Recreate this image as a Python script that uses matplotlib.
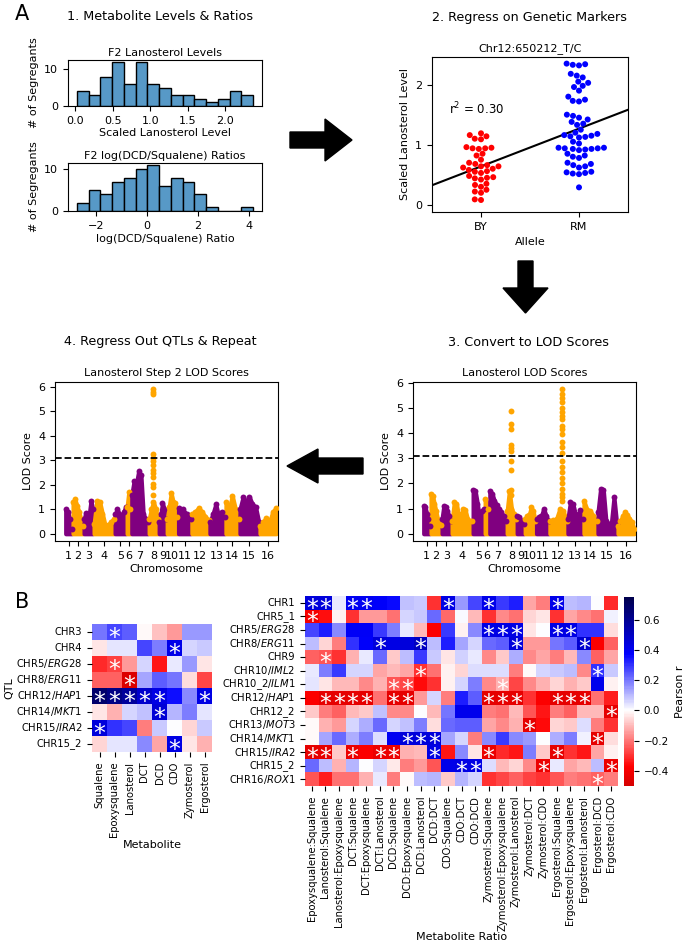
import numpy as np
import matplotlib
matplotlib.use('Agg')
import matplotlib.pyplot as plt
from matplotlib.patches import Polygon
import seaborn as sns

plt.rcParams['font.size'] = 8
W, H = 685, 949

# ---- step 1: histograms
lano_range = (0.02, 2.37)
lano_counts = [4, 3, 8, 12, 6, 12, 6, 5, 3, 3, 2, 1, 2, 4, 3]
ratio_range = (-2.75, 4.17)
ratio_counts = [2, 5, 4, 7, 8, 10, 11, 6, 8, 7, 4, 1, 0, 0, 1]

# ---- step 2: lanosterol by allele at Chr12:650212
by_levels = [1.19, 1.16, 1.14, 1.10, 1.09, 0.96, 0.95, 0.94, 0.94, 0.93, 0.85, 0.82,
             0.75, 0.70, 0.68, 0.66, 0.64, 0.64, 0.62, 0.60, 0.58, 0.56, 0.55, 0.53,
             0.48, 0.46, 0.45, 0.44, 0.42, 0.35, 0.33, 0.30, 0.25, 0.22, 0.20, 0.09, 0.08]
rm_levels = [2.35, 2.34, 2.33, 2.32, 2.18, 2.15, 2.12, 2.05, 2.03, 1.98, 1.96, 1.90,
             1.80, 1.75, 1.73, 1.72, 1.50, 1.48, 1.45, 1.42, 1.38, 1.35, 1.33,
             1.25, 1.20, 1.18, 1.16, 1.15, 1.14, 1.13, 1.12, 1.05, 1.02,
             0.95, 0.94, 0.93, 0.93, 0.92, 0.94, 0.95, 0.91, 0.85, 0.82, 0.80, 0.78,
             0.70, 0.68, 0.66, 0.64, 0.62, 0.55, 0.54, 0.53, 0.52, 0.51, 0.29]

# ---- steps 3/4: LOD profiles (genome position in marker units)
chrom_edges = [30, 52, 85, 115, 178, 214, 228, 280, 310, 334, 368, 408, 462, 510, 552, 612, 664]
lod_step1 = [
    [1.1, 1.05, 0.8, 0.6, 0.3],
    [1.6, 1.5, 1.2, 0.9, 0.6, 0.5, 0.35],
    [0.6, 1.1, 1.05, 0.9, 0.7, 0.5],
    [0.5, 1.25, 1.2, 0.7, 0.65, 1.0, 0.95, 0.6, 0.5, 0.5],
    [1.75, 1.7, 1.2, 0.6, 0.9, 1.0],
    [1.4, 1.0],
    [1.7, 1.6, 1.3, 1.15, 1.0, 0.85, 0.7, 0.5],
    [0.9, 1.7, 1.0, 0.8, 0.6],
    [0.7, 0.65, 0.5, 0.4],
    [0.6, 0.7, 0.75, 1.05, 0.9, 0.5],
    [0.6, 0.65, 0.7, 1.0, 0.7, 0.5],
    [0.5, 0.55, 0.6, 1.0, 0.9, 0.5],
    [0.6, 1.25, 1.2, 0.8, 0.7, 0.95, 0.6],
    [1.3, 0.95, 0.9, 0.7, 0.5],
    [0.85, 1.8, 1.75, 0.5, 0.4, 0.4, 1.45, 0.4],
    [0.3, 0.5, 0.7, 0.85, 0.75, 0.6, 0.45, 0.2],
]
step1_peak_chr8 = (293, [4.87, 4.35, 4.15, 3.55, 3.42, 3.3, 2.9, 2.55, 1.75, 1.55])
step1_peak_chr12 = (445, [5.75, 5.55, 5.4, 5.25, 5.0, 4.85, 4.7, 4.55, 4.3, 4.15, 3.95, 3.65,
                          3.45, 3.2, 2.9, 2.65, 2.45, 2.2, 2.0, 1.8, 1.6, 1.45, 1.3])
lod_step2 = [
    [1.0, 0.9, 0.6, 0.2],
    [1.3, 1.4, 1.15, 0.9, 0.6, 0.3],
    [0.6, 0.85, 0.7, 0.8, 1.35, 1.0],
    [0.4, 1.35, 1.3, 0.8, 0.3, 0.35, 0.5, 0.6],
    [0.8, 1.0, 0.8, 0.6, 0.9, 1.1],
    [1.1, 1.7, 1.0],
    [1.6, 2.15, 2.05, 2.55, 2.4, 0.8, 0.6, 0.5],
    [0.6, 1.0, 1.3, 1.0, 0.6],
    [0.5, 0.8, 1.25, 1.0, 0.6],
    [0.6, 1.1, 1.65, 1.3, 1.25, 0.7],
    [1.05, 1.0, 0.8, 0.6],
    [0.8, 0.9, 1.05, 0.9, 0.7, 0.55],
    [0.5, 0.8, 1.2, 0.7, 0.9, 0.7],
    [1.3, 1.0, 1.55, 1.0, 0.6],
    [1.0, 1.5, 1.3, 1.5, 1.2, 1.1, 0.5],
    [0.3, 0.5, 0.65, 0.5, 0.9, 1.05],
]
step2_peak_chr8 = (293, [5.9, 5.8, 5.7, 3.25, 3.1, 2.95, 2.8, 2.6, 2.5, 2.3, 2.05, 1.9, 1.6])
lod_threshold = 3.1

# ---- B: correlation heatmaps
metabolites = ['Squalene', 'Epoxysqualene', 'Lanosterol', 'DCT', 'DCD', 'CDO', 'Zymosterol', 'Ergosterol']
left_qtls = ['CHR3', 'CHR4', r'CHR5/$\it{ERG}$28', r'CHR8/$\it{ERG}$11', r'CHR12/$\it{HAP}$1',
             r'CHR14/$\it{MKT}$1', r'CHR15/$\it{IRA}$2', 'CHR15_2']
left_r = [
    [0.20, 0.27, 0.24, -0.01, -0.09, -0.15, 0.15, 0.15],
    [-0.04, 0.04, 0.04, 0.27, 0.19, 0.42, 0.06, 0.08],
    [-0.31, -0.28, -0.15, 0.06, -0.34, 0.03, 0.15, -0.04],
    [-0.23, -0.23, -0.48, 0.13, 0.24, 0.20, -0.05, -0.27],
    [0.68, 0.63, 0.58, 0.48, 0.43, 0.35, 0.17, 0.43],
    [-0.04, -0.11, 0.06, 0.09, 0.46, 0.11, 0.19, 0.04],
    [0.45, 0.30, 0.27, -0.19, 0.08, 0.00, -0.06, 0.08],
    [-0.06, 0.04, 0.04, 0.17, -0.13, 0.43, -0.04, -0.11],
]
left_sig = [[1], [5], [1], [2], [0, 1, 2, 3, 4, 7], [4], [0], [5]]

ratios = ['Epoxysqualene:Squalene', 'Lanosterol:Squalene', 'Lanosterol:Epoxysqualene',
          'DCT:Squalene', 'DCT:Epoxysqualene', 'DCT:Lanosterol', 'DCD:Squalene',
          'DCD:Epoxysqualene', 'DCD:Lanosterol', 'DCD:DCT', 'CDO:Squalene', 'CDO:DCT',
          'CDO:DCD', 'Zymosterol:Squalene', 'Zymosterol:Epoxysqualene',
          'Zymosterol:Lanosterol', 'Zymosterol:DCT', 'Zymosterol:CDO',
          'Ergosterol:Squalene', 'Ergosterol:Epoxysqualene', 'Ergosterol:Lanosterol',
          'Ergosterol:DCD', 'Ergosterol:CDO']
right_qtls = ['CHR1', 'CHR5_1', r'CHR5/$\it{ERG}$28', r'CHR8/$\it{ERG}$11', 'CHR9',
              r'CHR10/$\it{IML}$2', r'CHR10_2/$\it{ILM}$1', r'CHR12/$\it{HAP}$1', 'CHR12_2',
              r'CHR13/$\it{MOT}$3', r'CHR14/$\it{MKT}$1', r'CHR15/$\it{IRA}$2', 'CHR15_2',
              r'CHR16/$\it{ROX}$1']
right_r = [
    [0.45, 0.45, 0.03, 0.40, 0.40, 0.38, 0.36, 0.09, 0.08, -0.30, 0.43, 0.15, 0.27, 0.42, 0.29, 0.33, -0.13, -0.19, 0.42, 0.10, 0.11, 0.00, -0.31],
    [-0.40, -0.35, -0.02, -0.30, -0.15, -0.15, -0.21, 0.06, 0.08, 0.22, -0.22, 0.01, -0.10, -0.30, -0.17, -0.21, -0.06, -0.04, -0.30, -0.13, -0.17, -0.21, 0.02],
    [0.27, 0.33, 0.17, 0.39, 0.39, 0.29, 0.19, 0.03, -0.10, -0.38, 0.29, -0.02, 0.17, 0.43, 0.43, 0.43, -0.04, 0.00, 0.43, 0.43, 0.30, 0.30, -0.05],
    [0.10, -0.06, -0.19, 0.30, 0.38, 0.45, 0.43, 0.45, 0.50, 0.10, 0.33, 0.13, 0.06, 0.22, 0.24, 0.45, -0.15, -0.15, 0.20, 0.24, 0.47, -0.38, -0.23],
    [-0.23, -0.25, -0.30, -0.11, 0.03, 0.22, -0.08, 0.10, 0.29, 0.08, -0.04, 0.07, 0.03, -0.17, -0.08, 0.12, -0.17, -0.13, -0.19, -0.10, 0.17, -0.23, -0.13],
    [0.03, 0.19, 0.29, 0.06, 0.06, -0.13, -0.10, -0.13, -0.30, -0.21, -0.02, -0.06, 0.05, 0.05, 0.05, -0.19, -0.01, 0.06, 0.08, 0.10, -0.17, 0.30, 0.08],
    [0.04, -0.04, -0.10, -0.10, -0.17, -0.11, -0.25, -0.27, -0.36, -0.30, -0.02, 0.06, 0.19, -0.17, -0.11, -0.27, -0.17, -0.11, -0.06, -0.11, -0.08, 0.41, -0.02],
    [-0.38, -0.45, -0.45, -0.45, -0.45, -0.21, -0.45, -0.45, -0.15, 0.06, -0.19, 0.33, 0.24, -0.45, -0.45, -0.45, -0.30, -0.38, -0.45, -0.45, -0.45, -0.21, -0.33],
    [-0.08, -0.19, -0.23, -0.10, -0.08, 0.09, -0.17, -0.17, 0.00, -0.10, 0.20, 0.41, 0.41, -0.19, -0.21, -0.10, -0.25, -0.34, -0.19, -0.23, -0.10, -0.10, -0.45],
    [-0.01, -0.11, -0.15, 0.06, 0.12, 0.22, 0.06, 0.09, 0.19, -0.05, 0.22, 0.24, 0.24, -0.13, -0.17, -0.11, -0.45, -0.36, -0.06, -0.08, 0.05, -0.19, -0.30],
    [-0.01, 0.13, 0.22, 0.12, 0.19, 0.05, 0.40, 0.45, 0.45, 0.45, 0.13, 0.06, -0.19, 0.17, 0.29, 0.17, 0.15, 0.00, 0.12, 0.19, 0.02, -0.45, -0.05],
    [-0.45, -0.45, -0.08, -0.43, -0.38, -0.43, -0.43, -0.11, -0.10, 0.43, -0.34, 0.17, -0.04, -0.43, -0.31, -0.34, 0.19, -0.08, -0.45, -0.30, -0.34, -0.13, -0.02],
    [0.22, 0.10, -0.11, 0.11, 0.00, 0.06, -0.03, -0.19, -0.15, -0.25, 0.42, 0.43, 0.43, 0.05, -0.10, -0.06, -0.17, -0.43, 0.03, -0.13, -0.10, 0.10, -0.43],
    [-0.25, -0.33, -0.21, -0.21, -0.11, 0.03, -0.19, -0.01, 0.10, 0.11, -0.08, 0.11, 0.06, -0.30, -0.27, -0.23, -0.28, -0.30, -0.25, -0.19, -0.21, -0.23, -0.19],
]
right_sig = [[0, 1, 3, 4, 10, 13, 18], [0], [13, 14, 15, 18, 19], [5, 8, 15, 20], [1], [8, 21],
             [6, 7, 14], [1, 2, 3, 4, 6, 7, 13, 14, 15, 18, 19, 20], [22], [16], [7, 8, 9, 21],
             [0, 1, 3, 5, 6, 9, 13, 18], [11, 12, 17, 22], [21]]


def box(l, t, r, b):
    return [l / W, 1 - b / H, (r - l) / W, (b - t) / H]


def ftext(x, y, s, **kw):
    fig.text(x / W, 1 - y / H, s, ha='center', va='center', **kw)


fig = plt.figure(figsize=(6.85, 9.49), dpi=100)

# histograms
hist_color = '#5799c7'
ax = fig.add_axes(box(68, 60, 262, 106))
edges = np.linspace(*lano_range, len(lano_counts) + 1)
ax.bar(edges[:-1], lano_counts, width=np.diff(edges), align='edge', color=hist_color,
       edgecolor='black', linewidth=1)
ax.set_xticks([0.0, 0.5, 1.0, 1.5, 2.0])
ax.set_yticks([0, 10])
ax.set_title('F2 Lanosterol Levels', fontsize=8, pad=3)
ax.set_xlabel('Scaled Lanosterol Level', labelpad=2)
ax.set_ylabel('# of Segregants')

ax = fig.add_axes(box(68, 163, 262, 211))
edges = np.linspace(*ratio_range, len(ratio_counts) + 1)
ax.bar(edges[:-1], ratio_counts, width=np.diff(edges), align='edge', color=hist_color,
       edgecolor='black', linewidth=1)
ax.set_xticks([-2, 0, 2, 4])
ax.set_yticks([0, 10])
ax.set_title('F2 log(DCD/Squalene) Ratios', fontsize=8, pad=3)
ax.set_xlabel('log(DCD/Squalene) Ratio', labelpad=2)
ax.set_ylabel('# of Segregants')

# allele swarm
ax = fig.add_axes(box(432, 57, 628, 212))
alleles = ['BY'] * len(by_levels) + ['RM'] * len(rm_levels)
levels = by_levels + rm_levels
sns.swarmplot(x=alleles, y=levels, hue=alleles, palette=['red', 'blue'], size=4.3,
              legend=False, ax=ax)
xnum = np.array([0] * len(by_levels) + [1] * len(rm_levels))
slope, icpt = np.polyfit(xnum, levels, 1)
ax.axline((0, icpt), slope=slope, color='black', lw=1.5)
ax.set_xlim(-0.5, 1.5)
ax.set_ylim(-0.12, 2.46)
ax.set_yticks([0, 1, 2])
ax.text(-0.33, 1.6, 'r$^2$ = 0.30', fontsize=8.5, va='center')
ax.set_title('Chr12:650212_T/C', fontsize=8, pad=4)
ax.set_xlabel('Allele')
ax.set_ylabel('Scaled Lanosterol Level')

# LOD plots
purple, orange = '#800080', '#ffa500'


def manhattan(ax, profiles, peaks, title):
    for i, vals in enumerate(profiles):
        c = purple if i % 2 == 0 else orange
        xs = np.linspace(chrom_edges[i] + 2, chrom_edges[i + 1] - 2, len(vals))
        ax.fill_between(xs, 0, vals, facecolor=c, edgecolor=c, linewidth=3)
        ax.scatter(xs, vals, s=18, color=c, zorder=3, linewidths=0)
    for chrom, (px, vals) in peaks:
        c = purple if chrom % 2 == 1 else orange
        ax.scatter([px] * len(vals), vals, s=18, color=c, zorder=3, linewidths=0)
    ax.axhline(lod_threshold, color='black', ls='--', lw=1.3, zorder=4)
    centers = [(a + b) / 2 for a, b in zip(chrom_edges[:-1], chrom_edges[1:])]
    ax.set_xticks(centers)
    ax.set_xticklabels([str(k) for k in range(1, 17)])
    ax.set_xlim(0, 668)
    ax.set_yticks(range(7))
    ax.set_title(title, fontsize=8, pad=4)
    ax.set_xlabel('Chromosome', labelpad=2)
    ax.set_ylabel('LOD Score')


manhattan(fig.add_axes(box(55, 382, 278, 541)), lod_step2, [(8, step2_peak_chr8)],
          'Lanosterol Step 2 LOD Scores')
manhattan(fig.add_axes(box(413, 382, 636, 541)), lod_step1,
          [(8, step1_peak_chr8), (12, step1_peak_chr12)], 'Lanosterol LOD Scores')

# heatmaps
star_fs = 17
hm_fs = 7.2


def stars(ax, sig):
    for i, cols in enumerate(sig):
        for j in cols:
            ax.annotate('*', (j + 0.5, i + 0.5), xytext=(0, -0.55 * star_fs),
                        textcoords='offset points', ha='center', va='baseline',
                        color='white', fontsize=star_fs)


axl = fig.add_axes(box(92, 624, 212, 752))
sns.heatmap(np.array(left_r), ax=axl, cmap='seismic_r', center=0, vmin=-0.5, vmax=0.75,
            cbar=False, xticklabels=metabolites, yticklabels=left_qtls)
axl.set_yticklabels(left_qtls, rotation=0, fontsize=hm_fs)
axl.set_xticklabels(metabolites, rotation=90, fontsize=hm_fs)
stars(axl, left_sig)
axl.set_ylabel('QTL', labelpad=1)
axl.set_xlabel('Metabolite', labelpad=2)

axr = fig.add_axes(box(305, 596, 618, 786))
cax = fig.add_axes(box(624, 597, 634, 786))
sns.heatmap(np.array(right_r), ax=axr, cmap='seismic_r', center=0, vmin=-0.5, vmax=0.75,
            cbar_ax=cax, cbar_kws={'label': 'Pearson r'},
            xticklabels=ratios, yticklabels=right_qtls)
axr.set_yticklabels(right_qtls, rotation=0, fontsize=hm_fs)
axr.set_xticklabels(ratios, rotation=90, fontsize=hm_fs)
stars(axr, right_sig)
axr.set_xlabel('Metabolite Ratio', labelpad=1)
cax.tick_params(labelsize=7.5)

# headings
ftext(22, 14, 'A', fontsize=15)
ftext(22, 602, 'B', fontsize=15)
ftext(160, 17, '1. Metabolite Levels & Ratios', fontsize=9.2)
ftext(530, 17, '2. Regress on Genetic Markers', fontsize=9.2)
ftext(528, 342, '3. Convert to LOD Scores', fontsize=9.2)
ftext(160, 341, '4. Regress Out QTLs & Repeat', fontsize=9.2)

# arrows between steps
ov = fig.add_axes([0, 0, 1, 1], zorder=-1)
ov.set_xlim(0, W)
ov.set_ylim(H, 0)
ov.axis('off')
arrows = [
    [(290, 132), (325, 132), (325, 119), (352, 140), (325, 161), (325, 148), (290, 148)],
    [(518, 261), (533, 261), (533, 288), (548, 288), (525.5, 313), (503, 288), (518, 288)],
    [(363, 458), (318, 458), (318, 449), (287, 466), (318, 483), (318, 474), (363, 474)],
]
for pts in arrows:
    ov.add_patch(Polygon(pts, closed=True, color='black'))

fig.savefig('out.png', dpi=100)
